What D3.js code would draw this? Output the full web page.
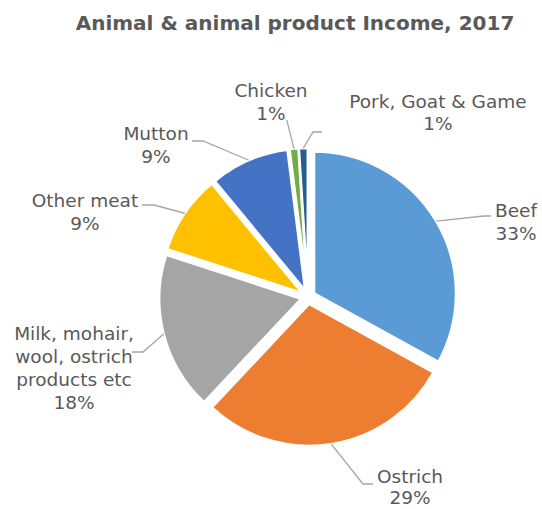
<!DOCTYPE html>
<html>
<head>
<meta charset="utf-8">
<script src="https://cdn.jsdelivr.net/npm/d3@7/dist/d3.min.js"></script>
<style>
  body { margin: 0; background: #ffffff; }
  text { font-family: "DejaVu Sans", sans-serif; fill: #595959; }
</style>
</head>
<body>
<script>
// Income shares by source (percent)
const categories = ["Beef", "Ostrich", "Milk, mohair, wool, ostrich products etc",
                    "Other meat", "Mutton", "Chicken", "Pork, Goat & Game"];
const shares = [33, 29, 18, 9, 9, 1, 1];
const colors = ["#5B9BD5", "#ED7D31", "#A5A5A5", "#FFC000", "#4472C4", "#70AD47", "#255E91"];
const labelLines = [["Beef"], ["Ostrich"], ["Milk, mohair,", "wool, ostrich", "products etc"],
                    ["Other meat"], ["Mutton"], ["Chicken"], ["Pork, Goat & Game"]];
const titleText = "Animal & animal product Income, 2017";

// Layout
const W = 542, H = 509;
const cx = 308, cy = 297, R = 142, explode = 7;
const lineH = 23, fontSize = 18.5;

// label anchor (centre x, first baseline) and leader-line elbow/end points
const labelLayout = [
  { x: 516, y: 217, lh: 23, elbow: [484, 216], end: [491, 216] },
  { x: 410, y: 483, lh: 21, elbow: [363, 484], end: [373, 484] },
  { x: 74,  y: 340, lh: 23, elbow: [143, 352], end: [132, 352] },
  { x: 85,  y: 207, lh: 23, elbow: [154, 205], end: [142, 205] },
  { x: 156, y: 140, lh: 23, elbow: [203, 141], end: [192, 141] },
  { x: 271, y: 97,  lh: 23, elbow: [287, 121], end: [287, 120] },
  { x: 438, y: 108, lh: 22, elbow: [313, 132], end: [322, 132] }
];

const svg = d3.select("body").append("svg")
  .attr("width", W).attr("height", H);

svg.append("text")
  .attr("x", 295).attr("y", 30)
  .attr("text-anchor", "middle")
  .style("font-weight", "bold")
  .style("font-size", "20px")
  .text(titleText);

const pie = d3.pie().sort(null).value(d => d)(shares);
const arc = d3.arc().innerRadius(0).outerRadius(R);

const g = svg.append("g").attr("transform", `translate(${cx},${cy})`);

const slices = g.selectAll("g.slice").data(pie).join("g")
  .attr("class", "slice")
  .attr("transform", d => {
    const a = (d.startAngle + d.endAngle) / 2;
    return `translate(${explode * Math.sin(a)},${-explode * Math.cos(a)})`;
  });

slices.append("path")
  .attr("d", arc)
  .attr("fill", (d, i) => colors[i])
  .attr("stroke", "#ffffff")
  .attr("stroke-width", 2.5)
  .attr("stroke-linejoin", "round");

// leader lines and labels
const total = d3.sum(shares);
pie.forEach((d, i) => {
  const a = (d.startAngle + d.endAngle) / 2;
  const sx = cx + (explode + R) * Math.sin(a);
  const sy = cy - (explode + R) * Math.cos(a);
  const L = labelLayout[i];
  svg.append("polyline")
    .attr("points", [[sx, sy], L.elbow, L.end].map(p => p.join(",")).join(" "))
    .attr("fill", "none")
    .attr("stroke", "#A6A6A6")
    .attr("stroke-width", 1.3);

  const t = svg.append("text")
    .attr("text-anchor", "middle")
    .style("font-size", fontSize + "px");
  const lines = labelLines[i].concat([Math.round(shares[i] / total * 100) + "%"]);
  lines.forEach((ln, k) => {
    t.append("tspan").attr("x", L.x).attr("y", L.y + k * L.lh).text(ln);
  });
});
</script>
</body>
</html>
